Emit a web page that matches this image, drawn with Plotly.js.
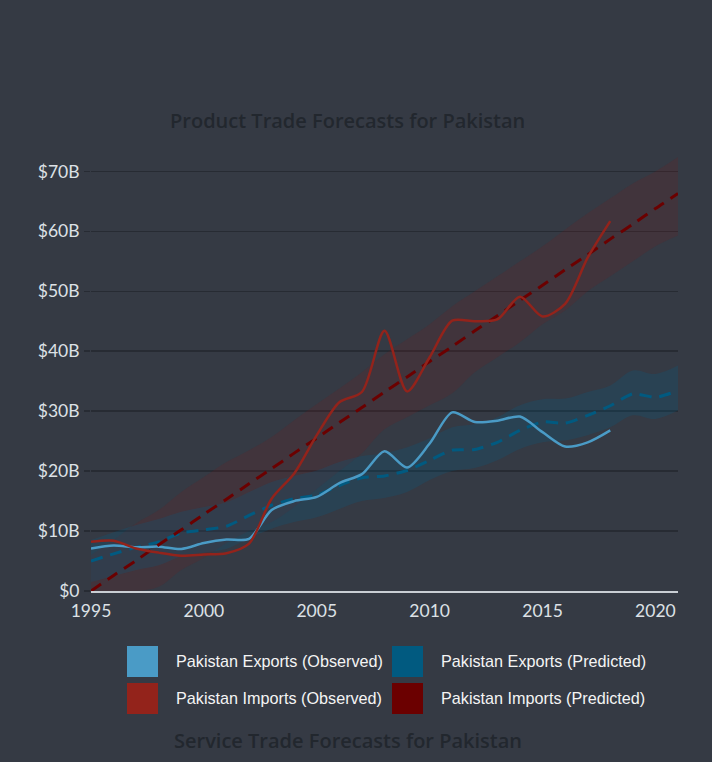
<!DOCTYPE html>
<html><head><meta charset="utf-8">
<script src="https://cdn.plot.ly/plotly-3.0.1.min.js"></script>
<style>html,body{margin:0;padding:0;background:#353a44;}#chart{width:712px;height:762px;}</style>
</head><body><div id="chart"></div>
<script>
const obsYears = [1995,1996,1997,1998,1999,2000,2001,2002,2003,2004,2005,2006,2007,2008,2009,2010,2011,2012,2013,2014,2015,2016,2017,2018];
const predYears = [1995,1996,1997,1998,1999,2000,2001,2002,2003,2004,2005,2006,2007,2008,2009,2010,2011,2012,2013,2014,2015,2016,2017,2018,2019,2020,2021];

const exportsObserved = [7.1,7.6,7.3,7.4,7.0,8.0,8.6,8.7,13.5,15.0,15.7,18.0,19.5,23.3,20.6,24.6,29.8,28.2,28.4,29.1,26.5,24.1,24.8,26.8];
const importsObserved = [8.2,8.4,7.1,6.4,5.9,6.1,6.3,7.9,15.4,19.6,26.0,31.5,33.2,43.4,33.3,39.0,45.1,45.0,45.3,49.1,45.8,47.9,55.6,61.7];

const exportsPredicted = [5.0,6.2,7.3,8.2,9.7,10.2,10.8,12.6,14.3,15.4,16.0,17.6,18.9,19.2,20.1,21.8,23.5,23.6,24.8,26.8,28.2,28.0,29.3,30.9,32.9,32.3,33.4];
const exportsUpper = [8.5,9.8,11.0,12.0,13.2,14.0,14.8,16.5,18.2,19.2,20.1,21.5,22.5,23.0,24.0,25.5,27.3,27.8,29.0,31.0,32.0,32.1,33.2,34.3,36.8,36.2,37.6];
const exportsLower = [1.5,2.5,3.5,4.3,5.8,6.4,7.0,8.8,10.4,11.5,12.3,13.7,15.0,15.5,16.5,18.5,20.0,20.5,21.8,23.7,24.8,25.1,26.0,27.3,29.3,28.7,30.1];

const importsPredicted = [0,2.6,5.1,7.7,10.2,12.8,15.3,17.9,20.4,23.0,25.5,28.1,30.6,33.2,35.7,38.3,40.8,43.4,45.9,48.5,51.0,53.6,56.1,58.7,61.2,63.8,66.3];
const importsUpper = [6.0,8.5,11.3,13.5,16.5,19.0,21.5,23.5,25.7,28.5,31.2,33.8,36.5,39.5,42.0,44.5,47.5,50.0,52.5,55.0,57.5,60.3,63.0,65.5,68.0,70.0,72.4];
const importsLower = [0,0,0,0.7,3.5,5.5,8.0,10.0,11.5,14.0,17.0,20.0,23.0,27.0,29.0,31.0,33.0,36.5,39.0,41.5,44.5,46.8,50.0,52.5,55.0,57.5,59.3];

const yTickVals = [0,10,20,30,40,50,60,70];
const yTickText = ['$0','$10B','$20B','$30B','$40B','$50B','$60B','$70B'];
const xTickVals = [1995,2000,2005,2010,2015,2020];

const legendLabels = ['Pakistan Exports (Observed)','Pakistan Exports (Predicted)','Pakistan Imports (Observed)','Pakistan Imports (Predicted)'];
const chartTitle = 'Product Trade Forecasts for Pakistan';
const nextTitle = 'Service Trade Forecasts for Pakistan';

const C = {
  bg:'#353a44', expObs:'#4a9bc6', expPred:'#015a80', impObs:'#93231b', impPred:'#6b0000',
  expBand:'rgba(0,95,135,0.22)', impBand:'rgba(125,22,22,0.17)', grid:'#272b33'
};

const traces = [
  {x:predYears, y:importsLower, mode:'lines', line:{width:0, shape:'spline'}, hoverinfo:'skip', showlegend:false},
  {x:predYears, y:importsUpper, mode:'lines', line:{width:0, shape:'spline'}, fill:'tonexty', fillcolor:C.impBand, hoverinfo:'skip', showlegend:false},
  {x:predYears, y:exportsLower, mode:'lines', line:{width:0, shape:'spline'}, hoverinfo:'skip', showlegend:false},
  {x:predYears, y:exportsUpper, mode:'lines', line:{width:0, shape:'spline'}, fill:'tonexty', fillcolor:C.expBand, hoverinfo:'skip', showlegend:false},
  {x:predYears, y:exportsPredicted, mode:'lines', name:legendLabels[1], line:{color:C.expPred, width:3, dash:'12px,8px', shape:'spline', smoothing:0.6}, showlegend:false},
  {x:obsYears, y:exportsObserved, mode:'lines', name:legendLabels[0], line:{color:C.expObs, width:2.5, shape:'spline', smoothing:0.8}, showlegend:false},
  {x:predYears, y:importsPredicted, mode:'lines', name:legendLabels[3], line:{color:C.impPred, width:3, dash:'12px,8px', shape:'spline', smoothing:0.6}, showlegend:false},
  {x:obsYears, y:importsObserved, mode:'lines', name:legendLabels[2], line:{color:C.impObs, width:2.5, shape:'spline', smoothing:0.8}, showlegend:false}
];

// pixel -> paper helpers (plot area: x 91..678, y 157..591)
const L=91, R=678, T=157, B=591;
const px = v => (v-L)/(R-L);
const py = v => (B-v)/(B-T);

const legendColors = [C.expObs, C.expPred, C.impObs, C.impPred];
const sqX = [127, 392, 127, 392];
const sqY = [646, 646, 683, 683];
const txX = [174, 439, 174, 439];
const txY = [661, 661, 698, 698];

const shapes = legendColors.map((c,i)=>({type:'rect', xref:'paper', yref:'paper',
  x0:px(sqX[i]), x1:px(sqX[i]+31), y0:py(sqY[i]), y1:py(sqY[i]+31),
  fillcolor:c, line:{width:0}}));

const annotations = legendLabels.map((t,i)=>({xref:'paper', yref:'paper', x:px(txX[i]), y:py(txY[i]),
  xanchor:'left', yanchor:'middle', showarrow:false, text:t,
  font:{family:'Liberation Sans, Arial, sans-serif', size:16.2, color:'#f4f4f4'}}));

const titleFont = {family:'Open Sans, sans-serif', size:20, weight:600, color:'#22272e'};
annotations.push({xref:'paper', yref:'paper', x:px(347.5), y:py(121), xanchor:'center', yanchor:'middle', showarrow:false,
  text:chartTitle, font:titleFont});
annotations.push({xref:'paper', yref:'paper', x:px(347.5), y:py(740.5), xanchor:'center', yanchor:'middle', showarrow:false,
  text:nextTitle, font:titleFont});

const layout = {
  width:712, height:762,
  paper_bgcolor:C.bg, plot_bgcolor:C.bg,
  margin:{l:L, r:712-R, t:T, b:762-B, pad:0},
  showlegend:false,
  xaxis:{range:[1995,2021], tickvals:xTickVals, showgrid:false, zeroline:false,
    showline:true, linecolor:'#c9ced4', linewidth:2, ticks:'', ticklabelstandoff:3,
    tickfont:{family:'Lato, sans-serif', size:17.5, color:'#dde1e6'}, fixedrange:true},
  yaxis:{range:[0,72.4], tickvals:yTickVals, ticktext:yTickText, showgrid:true, gridcolor:C.grid, gridwidth:1.5,
    zeroline:false, ticks:'outside', ticklen:6, tickwidth:1.5, tickcolor:C.grid, ticklabelstandoff:1,
    tickfont:{family:'Lato, sans-serif', size:17.5, color:'#dde1e6'}, fixedrange:true},
  shapes:shapes, annotations:annotations
};

Plotly.newPlot('chart', traces, layout, {displayModeBar:false, staticPlot:true});
</script>
</body></html>
